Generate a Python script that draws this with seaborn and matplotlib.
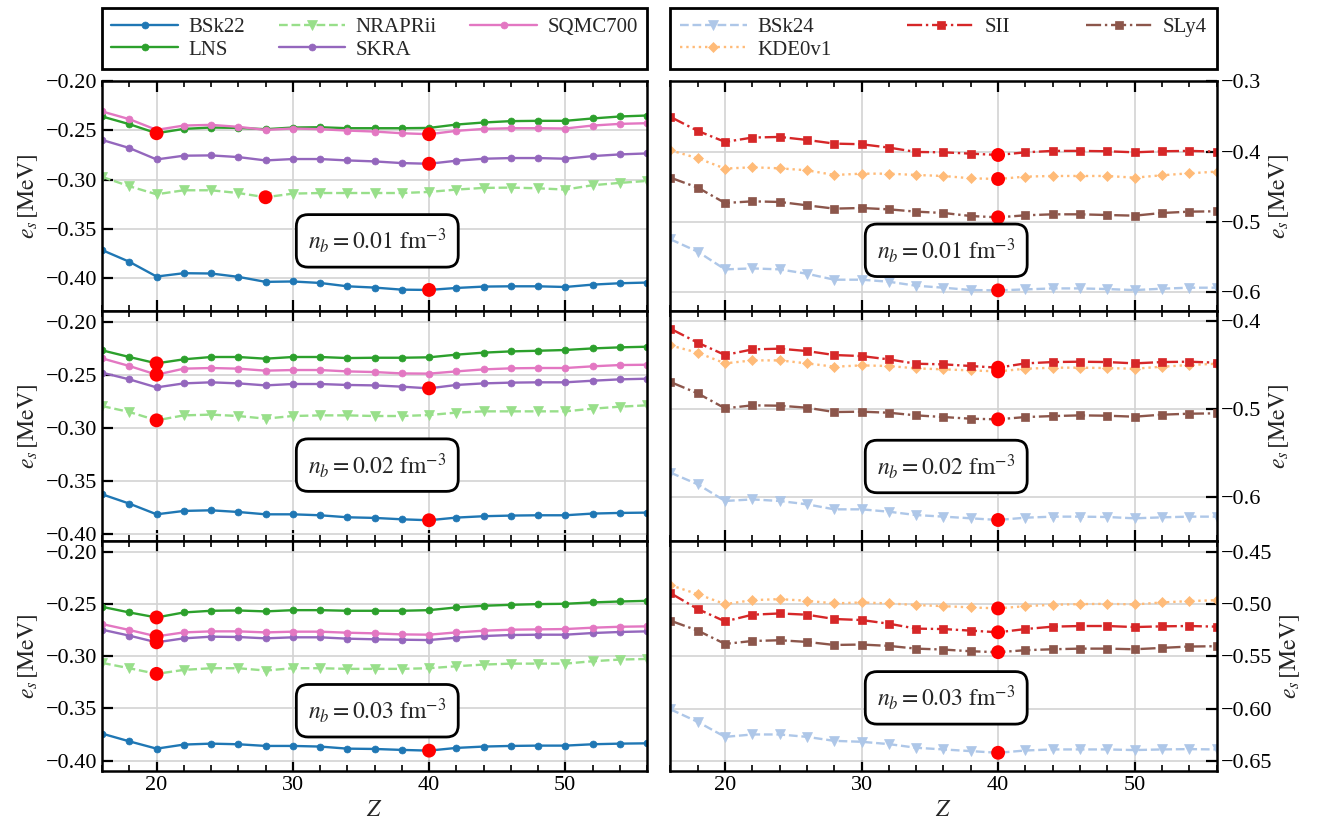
import matplotlib
matplotlib.use("Agg")
import matplotlib.pyplot as plt
from matplotlib.ticker import MultipleLocator
import numpy as np
import seaborn as sns

# Proton number of the cluster
Z = [16, 18, 20, 22, 24, 26, 28, 30, 32, 34, 36, 38, 40, 42, 44, 46, 48, 50, 52, 54, 56]

# ---- surface energy e_s [MeV], n_b = 0.01 fm^-3 ----
bsk22_01 = [-0.3714, -0.3833, -0.3983, -0.3949, -0.3952, -0.3986, -0.4037, -0.4033, -0.4048, -0.4082, -0.4095,
            -0.4116, -0.4119, -0.4099, -0.4085, -0.4082, -0.4082, -0.4089, -0.4065, -0.4051, -0.4044]
lns_01 = [-0.2358, -0.2436, -0.2528, -0.2484, -0.2470, -0.2474, -0.2487, -0.2470, -0.2467, -0.2477, -0.2477,
          -0.2477, -0.2474, -0.2440, -0.2419, -0.2405, -0.2402, -0.2402, -0.2378, -0.2358, -0.2348]
nrapr_01 = [-0.2971, -0.3066, -0.3148, -0.3107, -0.3107, -0.3135, -0.3178, -0.3141, -0.3135, -0.3135, -0.3135,
            -0.3135, -0.3124, -0.3100, -0.3083, -0.3080, -0.3087, -0.3100, -0.3056, -0.3032, -0.3012]
skra_01 = [-0.2596, -0.2678, -0.2794, -0.2756, -0.2753, -0.2770, -0.2804, -0.2790, -0.2790, -0.2804, -0.2814,
           -0.2831, -0.2838, -0.2807, -0.2787, -0.2780, -0.2780, -0.2787, -0.2760, -0.2743, -0.2733]
sqmc_01 = [-0.2307, -0.2385, -0.2494, -0.2450, -0.2443, -0.2463, -0.2494, -0.2480, -0.2487, -0.2501, -0.2511,
           -0.2528, -0.2538, -0.2504, -0.2484, -0.2477, -0.2477, -0.2480, -0.2450, -0.2433, -0.2426]
bsk24_01 = [-0.5249, -0.5425, -0.5677, -0.5663, -0.5677, -0.5739, -0.5824, -0.5824, -0.5853, -0.5910, -0.5938,
            -0.5971, -0.5976, -0.5962, -0.5948, -0.5948, -0.5957, -0.5972, -0.5952, -0.5938, -0.5938]
kde_01 = [-0.3981, -0.4095, -0.4242, -0.4223, -0.4238, -0.4266, -0.4333, -0.4314, -0.4314, -0.4333, -0.4347,
          -0.4380, -0.4390, -0.4356, -0.4347, -0.4347, -0.4347, -0.4371, -0.4337, -0.4309, -0.4285]
sii_01 = [-0.3506, -0.3705, -0.3862, -0.3800, -0.3791, -0.3834, -0.3886, -0.3895, -0.3943, -0.4005, -0.4010,
          -0.4029, -0.4048, -0.4010, -0.3990, -0.3990, -0.3995, -0.4010, -0.3995, -0.3990, -0.4000]
sly4_01 = [-0.4371, -0.4513, -0.4732, -0.4708, -0.4717, -0.4765, -0.4812, -0.4803, -0.4822, -0.4855, -0.4874,
           -0.4917, -0.4936, -0.4907, -0.4893, -0.4893, -0.4903, -0.4912, -0.4874, -0.4855, -0.4850]

# ---- n_b = 0.02 fm^-3 ----
bsk22_02 = [-0.3629, -0.3717, -0.3818, -0.3786, -0.3780, -0.3796, -0.3818, -0.3818, -0.3827, -0.3846, -0.3852,
            -0.3865, -0.3874, -0.3849, -0.3836, -0.3830, -0.3827, -0.3827, -0.3811, -0.3805, -0.3802]
lns_02 = [-0.2270, -0.2333, -0.2393, -0.2355, -0.2333, -0.2333, -0.2349, -0.2333, -0.2333, -0.2343, -0.2340,
          -0.2340, -0.2336, -0.2311, -0.2292, -0.2280, -0.2274, -0.2267, -0.2252, -0.2242, -0.2236]
nrapr_02 = [-0.2796, -0.2852, -0.2931, -0.2884, -0.2877, -0.2890, -0.2915, -0.2890, -0.2884, -0.2884, -0.2890,
            -0.2890, -0.2881, -0.2858, -0.2846, -0.2846, -0.2846, -0.2846, -0.2821, -0.2802, -0.2789]
skra_02 = [-0.2481, -0.2544, -0.2620, -0.2582, -0.2572, -0.2582, -0.2601, -0.2588, -0.2588, -0.2597, -0.2601,
           -0.2613, -0.2629, -0.2597, -0.2582, -0.2575, -0.2572, -0.2572, -0.2557, -0.2544, -0.2538]
sqmc_02 = [-0.2346, -0.2418, -0.2500, -0.2443, -0.2437, -0.2443, -0.2462, -0.2456, -0.2456, -0.2469, -0.2475,
           -0.2488, -0.2490, -0.2469, -0.2450, -0.2440, -0.2437, -0.2437, -0.2421, -0.2409, -0.2406]
bsk24_02 = [-0.5723, -0.5856, -0.6045, -0.6027, -0.6045, -0.6083, -0.6140, -0.6140, -0.6167, -0.6205, -0.6223,
            -0.6242, -0.6261, -0.6235, -0.6223, -0.6223, -0.6227, -0.6242, -0.6231, -0.6223, -0.6223]
kde_02 = [-0.4277, -0.4360, -0.4481, -0.4447, -0.4447, -0.4481, -0.4519, -0.4504, -0.4511, -0.4538, -0.4549,
          -0.4561, -0.4572, -0.4542, -0.4530, -0.4530, -0.4534, -0.4542, -0.4519, -0.4500, -0.4485]
sii_02 = [-0.4087, -0.4246, -0.4386, -0.4322, -0.4314, -0.4341, -0.4386, -0.4398, -0.4436, -0.4485, -0.4492,
          -0.4511, -0.4530, -0.4481, -0.4466, -0.4462, -0.4466, -0.4481, -0.4466, -0.4462, -0.4473]
sly4_02 = [-0.4693, -0.4822, -0.4992, -0.4958, -0.4962, -0.4985, -0.5034, -0.5030, -0.5042, -0.5072, -0.5091,
           -0.5110, -0.5117, -0.5091, -0.5080, -0.5072, -0.5076, -0.5087, -0.5064, -0.5053, -0.5049]

# ---- n_b = 0.03 fm^-3 ----
bsk22_03 = [-0.3742, -0.3816, -0.3886, -0.3847, -0.3838, -0.3844, -0.3860, -0.3860, -0.3866, -0.3886, -0.3889,
            -0.3898, -0.3905, -0.3879, -0.3866, -0.3860, -0.3857, -0.3857, -0.3844, -0.3838, -0.3835]
lns_03 = [-0.2528, -0.2582, -0.2630, -0.2582, -0.2566, -0.2563, -0.2572, -0.2560, -0.2560, -0.2566, -0.2566,
          -0.2566, -0.2560, -0.2534, -0.2518, -0.2509, -0.2502, -0.2499, -0.2486, -0.2477, -0.2471]
nrapr_03 = [-0.3065, -0.3116, -0.3170, -0.3132, -0.3116, -0.3116, -0.3138, -0.3116, -0.3116, -0.3122, -0.3122,
            -0.3122, -0.3116, -0.3097, -0.3081, -0.3072, -0.3072, -0.3072, -0.3049, -0.3033, -0.3027]
skra_03 = [-0.2747, -0.2804, -0.2868, -0.2830, -0.2814, -0.2817, -0.2830, -0.2820, -0.2820, -0.2833, -0.2839,
           -0.2843, -0.2846, -0.2824, -0.2808, -0.2798, -0.2795, -0.2795, -0.2779, -0.2769, -0.2763]
sqmc_03 = [-0.2693, -0.2750, -0.2811, -0.2773, -0.2763, -0.2763, -0.2773, -0.2766, -0.2766, -0.2776, -0.2782,
           -0.2792, -0.2795, -0.2773, -0.2757, -0.2747, -0.2744, -0.2741, -0.2728, -0.2719, -0.2715]
bsk24_03 = [-0.6006, -0.6126, -0.6269, -0.6246, -0.6246, -0.6269, -0.6307, -0.6316, -0.6338, -0.6373, -0.6389,
            -0.6405, -0.6421, -0.6399, -0.6389, -0.6389, -0.6389, -0.6395, -0.6389, -0.6386, -0.6389]
kde_03 = [-0.4820, -0.4906, -0.5001, -0.4963, -0.4953, -0.4969, -0.4994, -0.4985, -0.4994, -0.5010, -0.5020,
          -0.5032, -0.5042, -0.5020, -0.5007, -0.5001, -0.4998, -0.5004, -0.4985, -0.4972, -0.4963]
sii_03 = [-0.4896, -0.5048, -0.5166, -0.5102, -0.5090, -0.5102, -0.5143, -0.5153, -0.5188, -0.5235, -0.5239,
          -0.5254, -0.5270, -0.5239, -0.5216, -0.5210, -0.5210, -0.5220, -0.5213, -0.5210, -0.5216]
sly4_03 = [-0.5159, -0.5254, -0.5381, -0.5353, -0.5346, -0.5362, -0.5391, -0.5387, -0.5400, -0.5426, -0.5435,
           -0.5451, -0.5460, -0.5441, -0.5432, -0.5426, -0.5426, -0.5432, -0.5419, -0.5406, -0.5403]

densities = ["0.01", "0.02", "0.03"]

left_models = ["BSk22", "LNS", "NRAPRii", "SKRA", "SQMC700"]
right_models = ["BSk24", "KDE0v1", "SII", "SLy4"]

left_data = [
    {"BSk22": bsk22_01, "LNS": lns_01, "NRAPRii": nrapr_01, "SKRA": skra_01, "SQMC700": sqmc_01},
    {"BSk22": bsk22_02, "LNS": lns_02, "NRAPRii": nrapr_02, "SKRA": skra_02, "SQMC700": sqmc_02},
    {"BSk22": bsk22_03, "LNS": lns_03, "NRAPRii": nrapr_03, "SKRA": skra_03, "SQMC700": sqmc_03},
]
right_data = [
    {"BSk24": bsk24_01, "KDE0v1": kde_01, "SII": sii_01, "SLy4": sly4_01},
    {"BSk24": bsk24_02, "KDE0v1": kde_02, "SII": sii_02, "SLy4": sly4_02},
    {"BSk24": bsk24_03, "KDE0v1": kde_03, "SII": sii_03, "SLy4": sly4_03},
]

tab20 = sns.color_palette("tab20")
styles = {
    "BSk22":   dict(color=tab20[0],  marker="o", linestyle="-",  markersize=5),
    "BSk24":   dict(color=tab20[1],  marker="v", linestyle="--", markersize=6.5),
    "KDE0v1":  dict(color=tab20[3],  marker="D", linestyle=":",  markersize=5.5),
    "LNS":     dict(color=tab20[4],  marker="o", linestyle="-",  markersize=5),
    "NRAPRii": dict(color=tab20[5],  marker="v", linestyle="--", markersize=6.5),
    "SII":     dict(color=tab20[6],  marker="s", linestyle="-.", markersize=5.5),
    "SKRA":    dict(color=tab20[8],  marker="o", linestyle="-",  markersize=5),
    "SLy4":    dict(color=tab20[10], marker="s", linestyle="-.", markersize=5.5),
    "SQMC700": dict(color=tab20[12], marker="o", linestyle="-",  markersize=5),
}

left_ylims = [(-0.4333, -0.1998), (-0.407, -0.1899), (-0.410, -0.1898)]
right_ylims = [(-0.627, -0.2995), (-0.650, -0.3886), (-0.6595, -0.4398)]
right_ystep = [0.1, 0.1, 0.05]
box_pos_left = [0.305, 0.33, 0.262]
box_pos_right = [0.264, 0.324, 0.318]

sns.set_theme(style="ticks")
plt.rcParams.update({
    "font.family": "serif",
    "font.serif": ["Liberation Serif", "DejaVu Serif"],
    "mathtext.fontset": "stix",
    "axes.linewidth": 1.8,
    "axes.edgecolor": "black",
    "xtick.color": "black",
    "ytick.color": "black",
})

fig = plt.figure(figsize=(13.17, 8.21), dpi=100)
gs_left = fig.add_gridspec(3, 1, left=0.0775, right=0.4913, top=0.9013, bottom=0.0609, hspace=0)
gs_right = fig.add_gridspec(3, 1, left=0.5091, right=0.9237, top=0.9013, bottom=0.0609, hspace=0)


def style_axis(ax, side, show_xlabels):
    ax.set_xlim(16, 56)
    ax.xaxis.set_major_locator(MultipleLocator(10))
    ax.xaxis.set_minor_locator(MultipleLocator(2))
    ax.grid(True, which="major", color="#d3d3d3", linewidth=1.2)
    ax.set_axisbelow(True)
    ax.tick_params(axis="x", which="major", direction="in", top=True, bottom=True,
                   length=8, width=1.6, labelsize=16, labelbottom=show_xlabels)
    ax.tick_params(axis="x", which="minor", direction="in", top=True, bottom=True,
                   length=4, width=1.2)
    if side == "left":
        ax.tick_params(axis="y", which="major", direction="in", left=True, right=False,
                       length=8, width=1.6, labelsize=16)
    else:
        ax.yaxis.tick_right()
        ax.yaxis.set_label_position("right")
        ax.tick_params(axis="y", which="major", direction="in", left=False, right=True,
                       length=8, width=1.6, labelsize=16)
    ax.set_ylabel(r"$e_s\,[\mathrm{MeV}]$", fontsize=17)
    if show_xlabels:
        ax.set_xlabel(r"$Z$", fontsize=17)
    else:
        ax.set_xlabel("")
    for sp in ax.spines.values():
        sp.set_visible(True)
        sp.set_linewidth(1.8)
        sp.set_color("black")


def draw_panel(ax, models, data):
    handles = []
    for name in models:
        st = styles[name]
        sns.lineplot(x=Z, y=data[name], ax=ax, color=st["color"], marker=st["marker"],
                     linestyle=st["linestyle"], markersize=st["markersize"],
                     markeredgecolor=st["color"], markeredgewidth=0.5, linewidth=1.7,
                     label=name, legend=False)
        handles.append(ax.lines[-1])
    # minimum of every curve marked in red
    zmin = [Z[int(np.argmin(data[n]))] for n in models]
    emin = [float(np.min(data[n])) for n in models]
    sns.scatterplot(x=zmin, y=emin, ax=ax, color="red", s=100, edgecolor="none",
                    zorder=5, legend=False)
    return handles


def add_legend(ax, handles, labels):
    leg = ax.legend(handles, labels, loc="lower left", bbox_to_anchor=(0, 1.052, 1, 0.2),
                    mode="expand", ncol=3, borderaxespad=0, frameon=True, fancybox=False,
                    framealpha=1, edgecolor="black", fontsize=15, handlelength=3.2,
                    labelspacing=0.15, borderpad=0.45, columnspacing=1.0, handletextpad=0.5)
    leg.get_frame().set_linewidth(2.0)


box_kw = dict(boxstyle="round,pad=0.5,rounding_size=0.5", facecolor="white",
              edgecolor="black", linewidth=2.0)

for i, dens in enumerate(densities):
    axl = fig.add_subplot(gs_left[i])
    axr = fig.add_subplot(gs_right[i])

    hl = draw_panel(axl, left_models, left_data[i])
    hr = draw_panel(axr, right_models, right_data[i])

    style_axis(axl, "left", i == 2)
    style_axis(axr, "right", i == 2)

    axl.yaxis.set_major_locator(MultipleLocator(0.05))
    axl.set_ylim(*left_ylims[i])
    axr.yaxis.set_major_locator(MultipleLocator(right_ystep[i]))
    axr.set_ylim(*right_ylims[i])

    label = r"$n_b = %s\ \mathrm{fm}^{-3}$" % dens
    axl.text(0.505, box_pos_left[i], label, transform=axl.transAxes, ha="center", va="center",
             fontsize=17, bbox=box_kw, zorder=10)
    axr.text(0.505, box_pos_right[i], label, transform=axr.transAxes, ha="center", va="center",
             fontsize=17, bbox=box_kw, zorder=10)

    if i == 0:
        add_legend(axl, hl, left_models)
        add_legend(axr, hr, right_models)

fig.savefig("out.png", dpi=100)
